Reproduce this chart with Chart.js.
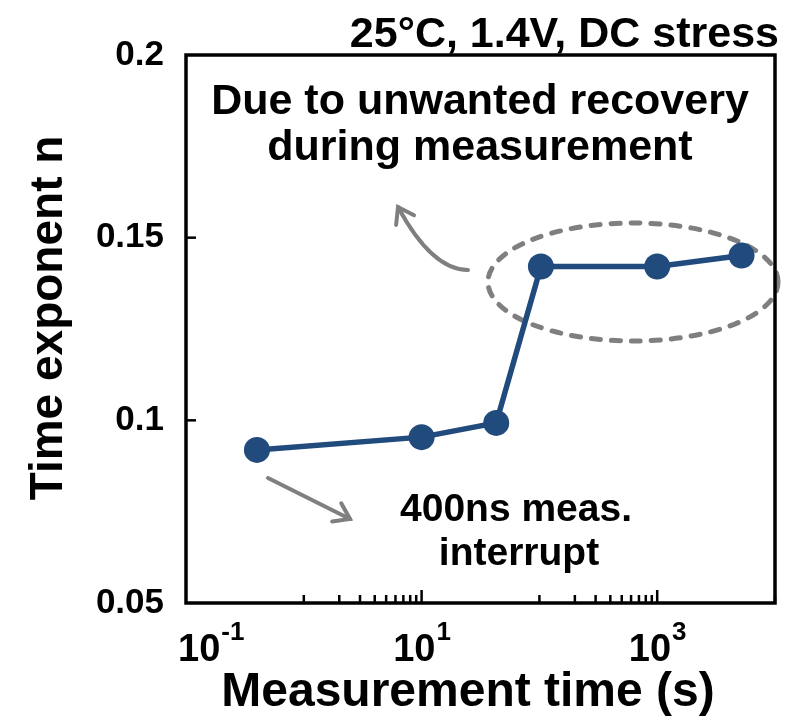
<!DOCTYPE html>
<html>
<head>
<meta charset="utf-8">
<script src="https://cdn.jsdelivr.net/npm/chart.js@4/dist/chart.umd.min.js"></script>
<style>
  body { margin: 0; background: #fff; }
  #wrap { width: 792px; height: 726px; }
</style>
</head>
<body>
<div id="wrap"><canvas id="nChart"></canvas></div>
<script>
// measurement time (s) and time exponent n
const times = [0.4, 10, 43, 103, 1000, 5200];
const exponents = [0.0919, 0.0954, 0.0993, 0.1421, 0.1421, 0.1451];

const yTicks = [0.05, 0.1, 0.15, 0.2];
const yTickLabels = ['0.05', '0.1', '0.15', '0.2'];
const xMajorTicks = [0.1, 10, 1000];
const xMajorLabels = [['10', '-1'], ['10', '1'], ['10', '3']];
const xMinorTicks = [1, 2, 3, 4, 5, 6, 7, 8, 9, 100, 200, 300, 400, 500, 600, 700, 800, 900, 10000];

const FONT = '"Liberation Sans", Arial, sans-serif';
const GREY = '#7f7f7f';

const decor = {
  id: 'decor',
  beforeDatasetsDraw(chart) {
    const c = chart.ctx;
    c.save();
    c.strokeStyle = GREY;
    c.lineCap = 'round';
    // dashed ellipse round the last three points
    c.lineWidth = 5;
    c.setLineDash([9, 11]);
    c.beginPath();
    c.ellipse(633, 282, 145, 59, 0, 0, Math.PI * 2);
    c.stroke();
    c.setLineDash([]);

    // curved arrow to the upper text
    c.lineWidth = 4;
    c.beginPath();
    c.moveTo(468, 270);
    c.quadraticCurveTo(432, 270, 398, 207);
    c.stroke();
    arrowHead(c, 398, 207, Math.atan2(207 - 270, 398 - 432));

    // straight arrow to the lower text
    c.beginPath();
    c.moveTo(268, 478);
    c.lineTo(350, 519);
    c.stroke();
    arrowHead(c, 350, 519, Math.atan2(519 - 478, 350 - 268));
    c.restore();
  },
  afterDraw(chart) {
    const c = chart.ctx;
    const a = chart.chartArea;
    const xs = chart.scales.x, ys = chart.scales.y;
    c.save();
    // frame
    c.strokeStyle = '#000';
    c.lineWidth = 3.5;
    c.strokeRect(a.left, a.top, a.right - a.left, a.bottom - a.top);

    // y ticks
    c.lineWidth = 2.5;
    c.fillStyle = '#000';
    c.font = 'bold 35px ' + FONT;
    c.textAlign = 'right';
    c.textBaseline = 'middle';
    yTicks.forEach((v, i) => {
      const y = ys.getPixelForValue(v);
      if (v > ys.min && v < ys.max) {
        c.beginPath(); c.moveTo(a.left, y); c.lineTo(a.left + 10, y); c.stroke();
      }
      c.fillText(yTickLabels[i], 164, y);
    });

    // x ticks
    xMinorTicks.forEach(v => {
      const x = xs.getPixelForValue(v);
      c.beginPath(); c.moveTo(x, a.bottom); c.lineTo(x, a.bottom - 8); c.stroke();
    });
    xMajorTicks.forEach((v, i) => {
      const x = xs.getPixelForValue(v);
      if (v > xs.min) {
        c.beginPath(); c.moveTo(x, a.bottom); c.lineTo(x, a.bottom - 13); c.stroke();
      }
      const base = xMajorLabels[i][0], sup = xMajorLabels[i][1];
      c.textAlign = 'left';
      c.textBaseline = 'alphabetic';
      c.font = 'bold 38px ' + FONT;
      const wb = c.measureText(base).width;
      c.font = 'bold 26px ' + FONT;
      const ws = c.measureText(sup).width;
      let x0 = x - (wb + ws) / 2;
      if (x0 < a.left - 8) x0 = a.left - 8;
      c.font = 'bold 38px ' + FONT;
      c.fillText(base, x0, 661);
      c.font = 'bold 26px ' + FONT;
      c.fillText(sup, x0 + wb + 1, 640);
    });

    // axis titles
    c.textAlign = 'center';
    c.textBaseline = 'alphabetic';
    c.font = 'bold 48px ' + FONT;
    c.fillText('Measurement time (s)', 468, 706);
    c.save();
    c.translate(62, 318);
    c.rotate(-Math.PI / 2);
    c.font = 'bold 46px ' + FONT;
    c.fillText('Time exponent n', 0, 0);
    c.restore();

    // texts
    c.font = 'bold 43px ' + FONT;
    c.textAlign = 'right';
    c.fillText('25\u00B0C, 1.4V, DC stress', 779, 47);
    c.textAlign = 'center';
    c.font = 'bold 43px ' + FONT;
    c.fillText('Due to unwanted recovery', 480, 114);
    c.fillText('during measurement', 480, 160);
    c.font = 'bold 39px ' + FONT;
    c.fillText('400ns meas.', 516, 521);
    c.fillText('interrupt', 519, 565);
    c.restore();
  }
};

function arrowHead(c, x, y, ang) {
  const len = 18, spread = 0.6;
  c.beginPath();
  c.moveTo(x - len * Math.cos(ang - spread), y - len * Math.sin(ang - spread));
  c.lineTo(x, y);
  c.lineTo(x - len * Math.cos(ang + spread), y - len * Math.sin(ang + spread));
  c.stroke();
}

const ctx = document.getElementById('nChart');
new Chart(ctx, {
  type: 'line',
  data: {
    datasets: [{
      data: times.map((t, i) => ({ x: t, y: exponents[i] })),
      borderColor: '#214a7d',
      backgroundColor: '#214a7d',
      borderWidth: 5.5,
      pointRadius: 13,
      pointHoverRadius: 13,
      pointBorderWidth: 0,
      tension: 0
    }]
  },
  options: {
    responsive: true,
    maintainAspectRatio: false,
    animation: false,
    layout: { padding: { left: 186, right: 17, top: 55, bottom: 123 } },
    plugins: { legend: { display: false }, tooltip: { enabled: false } },
    scales: {
      x: { type: 'logarithmic', min: 0.1, max: 10000, display: false },
      y: { type: 'linear', min: 0.05, max: 0.2, display: false }
    }
  },
  plugins: [decor]
});
</script>
</body>
</html>
